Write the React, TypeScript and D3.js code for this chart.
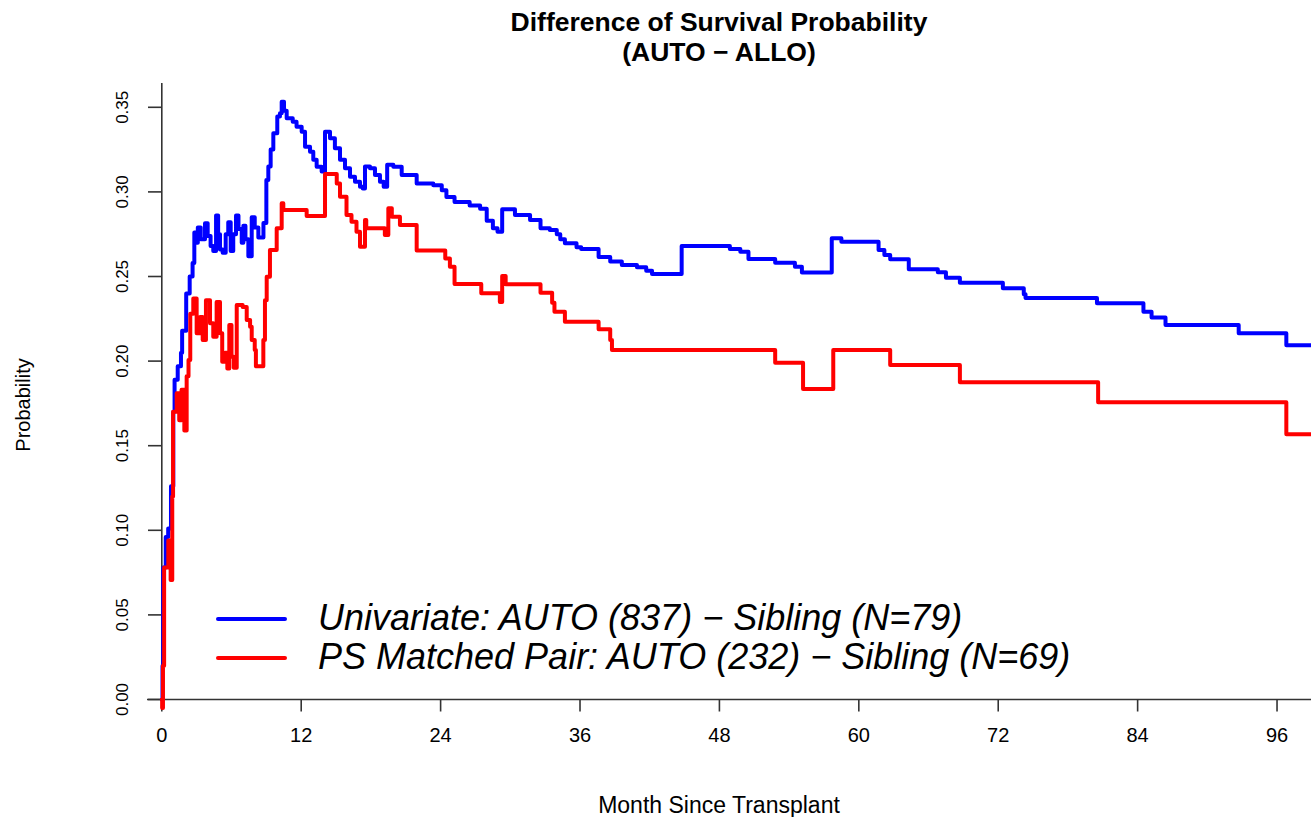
import * as d3 from "d3";
import React from "react";

// step points: month where the value starts, difference in survival probability
const univMonth = [0, 0.06, 0.12, 0.34, 0.55, 0.79, 0.99, 1.1, 1.37, 1.65, 1.75, 2.1, 2.4, 2.65, 2.8, 2.95, 3.1, 3.35, 3.72, 3.95, 4.2, 4.43, 4.67, 4.85, 5.01, 5.24, 5.5, 5.72, 5.93, 6.15, 6.39, 6.6, 6.88, 7.02, 7.2, 7.45, 7.74, 8.0, 8.31, 8.75, 9.0, 9.17, 9.37, 9.6, 9.94, 10.17, 10.32, 10.52, 10.75, 11.27, 11.6, 12.04, 12.33, 12.76, 13.04, 13.33, 13.76, 14.05, 14.48, 14.9, 15.34, 15.77, 16.2, 16.63, 17.06, 17.3, 17.49, 17.92, 18.35, 18.78, 19.1, 19.4, 19.93, 20.65, 21.94, 23.37, 24.1, 24.5, 25.2, 26.5, 27.4, 27.97, 28.5, 28.9, 29.3, 30.4, 31.7, 32.6, 33.4, 34.0, 34.3, 34.7, 35.7, 36.1, 37.6, 38.6, 39.6, 40.9, 41.7, 42.2, 44.75, 48.9, 49.8, 50.5, 52.8, 54.5, 55.1, 57.67, 58.5, 61.7, 62.2, 62.7, 64.3, 66.8, 67.5, 68.7, 72.4, 74.2, 74.35, 80.5, 84.5, 85.2, 86.4, 92.7, 96.8, 99];
const univProb = [0, 0.02, 0.078, 0.096, 0.101, 0.126, 0.17, 0.189, 0.197, 0.205, 0.218, 0.24, 0.25, 0.258, 0.276, 0.27, 0.279, 0.272, 0.2815, 0.274, 0.268, 0.265, 0.286, 0.275, 0.266, 0.264, 0.275, 0.282, 0.265, 0.275, 0.286, 0.278, 0.27, 0.28, 0.272, 0.262, 0.285, 0.279, 0.273, 0.2816, 0.307, 0.315, 0.325, 0.3346, 0.3445, 0.3465, 0.3533, 0.348, 0.3435, 0.3415, 0.3385, 0.3356, 0.3267, 0.3238, 0.319, 0.3149, 0.312, 0.3356, 0.3317, 0.3258, 0.319, 0.314, 0.309, 0.306, 0.303, 0.302, 0.315, 0.314, 0.31, 0.306, 0.303, 0.316, 0.3149, 0.31, 0.305, 0.304, 0.301, 0.297, 0.294, 0.292, 0.29, 0.283, 0.2785, 0.2765, 0.2897, 0.2863, 0.2834, 0.2785, 0.2775, 0.275, 0.272, 0.2696, 0.2673, 0.2663, 0.2615, 0.2588, 0.2568, 0.2554, 0.2534, 0.2515, 0.268, 0.2663, 0.2647, 0.2603, 0.2582, 0.2558, 0.2523, 0.2726, 0.2706, 0.2657, 0.2627, 0.2602, 0.2543, 0.2525, 0.2493, 0.2463, 0.243, 0.2395, 0.2373, 0.2342, 0.2292, 0.2257, 0.2213, 0.2164, 0.2093, 0.2093];

const psMonth = [0, 0.03, 0.1, 0.2, 0.56, 0.76, 0.9, 0.97, 1.28, 1.5, 1.7, 1.94, 2.14, 2.3, 2.45, 2.71, 3.0, 3.29, 3.52, 3.8, 4.15, 4.43, 4.72, 5.01, 5.2, 5.44, 5.64, 5.81, 6.0, 6.2, 6.45, 6.96, 7.31, 7.6, 7.74, 8.0, 8.1, 8.74, 8.88, 9.03, 9.31, 9.89, 10.32, 10.46, 12.47, 14.05, 15.06, 15.34, 15.9, 16.33, 16.76, 17.06, 17.49, 17.6, 19.2, 19.5, 19.8, 20.5, 21.94, 24.4, 24.8, 25.2, 27.5, 29.1, 29.3, 29.6, 32.6, 33.6, 33.8, 34.7, 37.6, 38.6, 38.75, 52.8, 55.2, 57.8, 62.7, 68.7, 80.6, 96.8, 99];
const psProb = [0, -0.005, 0.02, 0.078, 0.094, 0.0706, 0.12, 0.17, 0.181, 0.165, 0.183, 0.159, 0.191, 0.2007, 0.228, 0.237, 0.2165, 0.226, 0.2125, 0.236, 0.2223, 0.2144, 0.235, 0.2165, 0.1996, 0.205, 0.1957, 0.2213, 0.2026, 0.196, 0.2332, 0.232, 0.2243, 0.2203, 0.2125, 0.2066, 0.197, 0.2125, 0.236, 0.2499, 0.2657, 0.2785, 0.2933, 0.2893, 0.2858, 0.3106, 0.305, 0.2972, 0.2863, 0.2824, 0.2765, 0.2676, 0.2834, 0.2785, 0.2746, 0.2903, 0.2853, 0.2804, 0.2653, 0.2607, 0.2558, 0.2456, 0.2401, 0.235, 0.2503, 0.2454, 0.2404, 0.2345, 0.2292, 0.2233, 0.2188, 0.2125, 0.2066, 0.199, 0.1835, 0.2066, 0.1977, 0.1875, 0.1757, 0.1567, 0.1567];

const xTicks = [0, 12, 24, 36, 48, 60, 72, 84, 96];
const yTicks = [0, 0.05, 0.1, 0.15, 0.2, 0.25, 0.3, 0.35];
const legendLabels = [
  "Univariate: AUTO (837) \u2212 Sibling (N=79)",
  "PS Matched Pair: AUTO (232) \u2212 Sibling (N=69)",
];
const seriesColors = ["#0000ff", "#ff0000"];

const W = 1311;
const H = 817;
const FONT = "'Liberation Sans', Arial, Helvetica, sans-serif";

export default function App() {
  const x = d3.scaleLinear().domain([0, 99]).range([161.8, 161.8 + 99 * 11.617]);
  const y = d3.scaleLinear().domain([0, 0.35]).range([699.5, 107.3]);

  const line = d3
    .line<[number, number]>()
    .x((d) => x(d[0]))
    .y((d) => y(d[1]))
    .curve(d3.curveStepAfter);

  const series = [
    univMonth.map((m, i) => [m, univProb[i]] as [number, number]),
    psMonth.map((m, i) => [m, psProb[i]] as [number, number]),
  ];

  const axisColor = "#333";

  return (
    <svg
      width={W}
      height={H}
      style={{ position: "absolute", left: 0, top: 0, background: "#fff" }}
      fontFamily={FONT}
    >
      {/* title */}
      <text x={719} y={31} textAnchor="middle" fontWeight="bold" fontSize={26.5}>
        Difference of Survival Probability
      </text>
      <text x={719} y={61} textAnchor="middle" fontWeight="bold" fontSize={26.5}>
        (AUTO {"\u2212"} ALLO)
      </text>

      {/* axes */}
      <line x1={147} x2={W} y1={y(0)} y2={y(0)} stroke={axisColor} strokeWidth={1.6} />
      <line x1={x(0)} x2={x(0)} y1={83} y2={y(0)} stroke={axisColor} strokeWidth={1.6} />
      {xTicks.map((t) => (
        <g key={"x" + t}>
          <line x1={x(t)} x2={x(t)} y1={y(0)} y2={y(0) + 12} stroke={axisColor} strokeWidth={1.6} />
          <text x={x(t)} y={742} textAnchor="middle" fontSize={20}>
            {t}
          </text>
        </g>
      ))}
      {yTicks.map((t) => (
        <g key={"y" + t}>
          <line x1={148} x2={x(0)} y1={y(t)} y2={y(t)} stroke={axisColor} strokeWidth={1.6} />
          <text
            transform={`translate(128,${y(t)}) rotate(-90)`}
            textAnchor="middle"
            fontSize={17}
          >
            {t.toFixed(2)}
          </text>
        </g>
      ))}
      <text x={719} y={813} textAnchor="middle" fontSize={23}>
        Month Since Transplant
      </text>
      <text transform="translate(30,405) rotate(-90)" textAnchor="middle" fontSize={20}>
        Probability
      </text>

      {/* curves */}
      {series.map((s, i) => (
        <path
          key={i}
          d={line(s) || ""}
          fill="none"
          stroke={seriesColors[i]}
          strokeWidth={4}
          strokeLinejoin="round"
          strokeLinecap="round"
        />
      ))}

      {/* legend */}
      {legendLabels.map((lab, i) => (
        <g key={lab}>
          <line
            x1={218}
            x2={285}
            y1={619 + i * 39}
            y2={619 + i * 39}
            stroke={seriesColors[i]}
            strokeWidth={4}
            strokeLinecap="round"
          />
          <text x={318} y={630 + i * 39} fontSize={36} fontStyle="italic">
            {lab}
          </text>
        </g>
      ))}
    </svg>
  );
}
